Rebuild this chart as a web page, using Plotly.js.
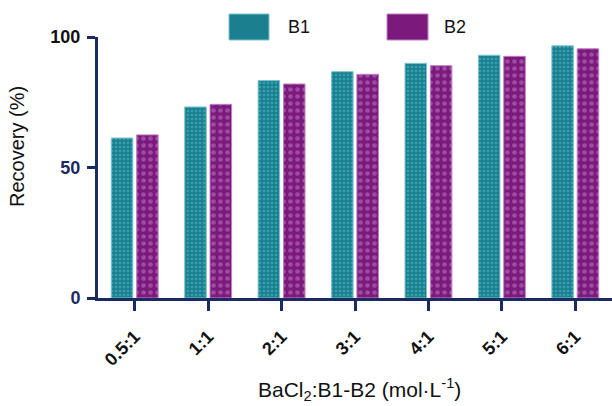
<!DOCTYPE html>
<html>
<head>
<meta charset="utf-8">
<script src="https://cdn.plot.ly/plotly-3.0.1.min.js"></script>
<style>html,body{margin:0;padding:0;background:#fff}#chart{width:612px;height:406px}</style>
</head>
<body>
<div id="chart"></div>
<script>
const categories = ['0.5:1', '1:1', '2:1', '3:1', '4:1', '5:1', '6:1'];
const b1Values = [61.3, 73.2, 83.3, 86.7, 89.9, 93.0, 96.6];
const b2Values = [62.5, 74.2, 82.0, 85.7, 89.0, 92.6, 95.5];
const seriesNames = ['B1', 'B2'];
const yTickVals = [0, 50, 100];
const yTickText = ['0', '50', '<span style="color:#111111">100</span>'];
const xTitle = 'BaCl<sub>2</sub>:B1-B2 (mol·L<sup>-1</sup>)';
const yTitle = 'Recovery (%)';

const navy = '#1c2a62';
const teal = '#1b7f8f';
const tealLight = '#35a0ad';
const purple = '#7a1a7c';
const purpleLight = '#a04aa2';

const traces = [
  {
    type: 'bar', name: seriesNames[0], x: categories, y: b1Values,
    marker: {
      color: teal,
      line: {color: '#7cc3cc', width: 1},
      pattern: {shape: '.', fgcolor: tealLight, bgcolor: teal, size: 4, solidity: 0.35}
    },
    showlegend: false
  },
  {
    type: 'bar', name: seriesNames[1], x: categories, y: b2Values,
    marker: {
      color: purple,
      line: {color: '#c07fc2', width: 1},
      pattern: {shape: '.', fgcolor: purpleLight, bgcolor: purple, size: 7, solidity: 0.35}
    },
    showlegend: false
  }
];

const L = 98, R = 612, T = 37, B = 298;
const px = v => (v - L) / (R - L);
const py = v => (B - v) / (B - T);

const layout = {
  width: 612, height: 406,
  margin: {l: L, r: 0, t: T, b: 406 - B},
  paper_bgcolor: '#ffffff', plot_bgcolor: '#ffffff',
  font: {family: '"Liberation Sans", Arial, sans-serif', color: '#111111'},
  barmode: 'group', bargap: 0.31, bargroupgap: 0.15,
  xaxis: {
    type: 'category', range: [-0.5, 6.5],
    showline: true, linecolor: navy, linewidth: 3,
    ticks: 'outside', ticklen: 10, tickwidth: 3, tickcolor: navy,
    tickangle: -45, ticklabelstandoff: 8,
    tickfont: {size: 18, color: '#111111', weight: 'bold'},
    showgrid: false, zeroline: false
  },
  yaxis: {
    range: [0, 100],
    showline: true, linecolor: navy, linewidth: 3,
    ticks: 'outside', ticklen: 8, tickwidth: 3, tickcolor: navy,
    tickvals: yTickVals, ticktext: yTickText, ticklabelstandoff: 3,
    tickfont: {size: 18, color: navy, weight: 'bold'},
    showgrid: false, zeroline: false
  },
  shapes: [
    {type: 'rect', xref: 'paper', yref: 'paper', x0: px(229), x1: px(269), y0: py(40), y1: py(14),
     fillcolor: teal, line: {color: '#7cc3cc', width: 1}},
    {type: 'rect', xref: 'paper', yref: 'paper', x0: px(387), x1: px(428), y0: py(40), y1: py(14),
     fillcolor: purple, line: {color: '#c07fc2', width: 1}}
  ],
  annotations: [
    {xref: 'paper', yref: 'paper', x: px(286), y: py(27), xanchor: 'left', yanchor: 'middle',
     text: seriesNames[0], showarrow: false, font: {size: 18, color: '#111111'}},
    {xref: 'paper', yref: 'paper', x: px(442), y: py(27), xanchor: 'left', yanchor: 'middle',
     text: seriesNames[1], showarrow: false, font: {size: 18, color: '#111111'}},
    {xref: 'paper', yref: 'paper', x: px(359), y: py(389), xanchor: 'center', yanchor: 'middle',
     text: xTitle, showarrow: false, font: {size: 21, color: '#111111'}},
    {xref: 'paper', yref: 'paper', x: px(17), y: py(147), xanchor: 'center', yanchor: 'middle',
     text: yTitle, textangle: -90, showarrow: false, font: {size: 20, color: '#111111'}}
  ],
  showlegend: false
};

Plotly.newPlot('chart', traces, layout, {displayModeBar: false, staticPlot: true});
</script>
</body>
</html>
